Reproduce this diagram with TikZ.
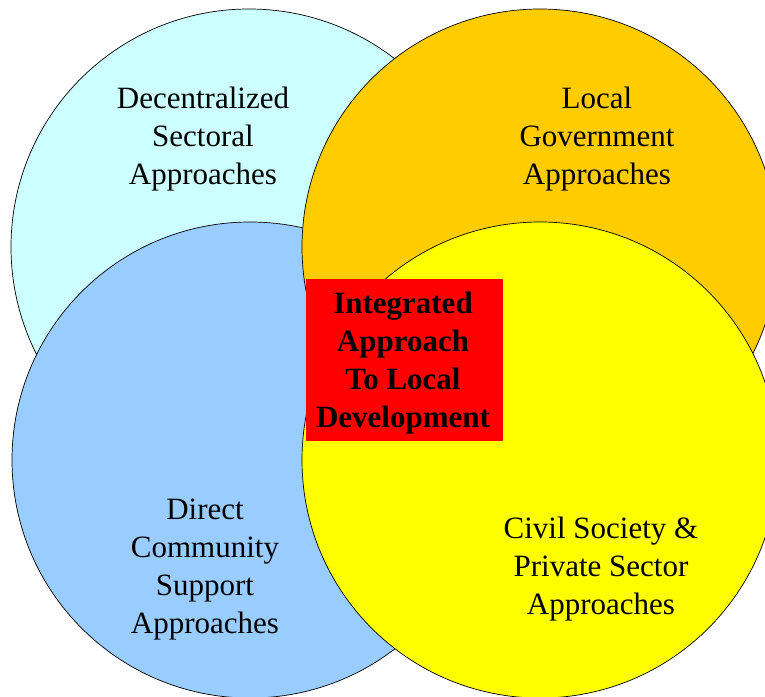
\documentclass[tikz,border=0pt]{standalone}
\usepackage{fontspec}
\setmainfont{Liberation Serif}
\begin{document}
\begin{tikzpicture}[x=1pt,y=-1pt,
  venn/.style={circle,draw=black,line width=0.7pt,minimum size=476pt,inner sep=0pt},
  lbl/.style={align=center,anchor=base,inner sep=0pt,font=\fontsize{31}{38}\selectfont},
  core/.style={fill=red,minimum width=197pt,minimum height=162pt,inner sep=0pt}]
\useasboundingbox (0,0) rectangle (765,696);
\definecolor{cyanC}{HTML}{CCFFFF}
\definecolor{orangeC}{HTML}{FFCC00}
\definecolor{blueC}{HTML}{99CCFF}
\definecolor{yellowC}{HTML}{FFFF00}
\node[venn,fill=cyanC] (dec) at (249,247) {};
\node[venn,fill=blueC] (dir) at (250,460) {};
\node[venn,fill=orangeC] (loc) at (540,247) {};
\node[venn,fill=yellowC] (civ) at (540,460) {};
\node[core] (int) at (404.5,360) {};
\node[lbl] (tdec) at (203,184) {Decentralized\\Sectoral\\Approaches};
\node[lbl] (tloc) at (597,184) {Local\\Government\\Approaches};
\node[lbl] (tdir) at (205,633) {Direct\\Community\\Support\\Approaches};
\node[lbl] (tciv) at (601,614) {Civil Society \&\\Private Sector\\Approaches};
\node[lbl,font=\fontsize{31}{38}\selectfont\bfseries] (tint) at (403,427) {Integrated\\Approach\\To Local\\Development};
\end{tikzpicture}
\end{document}
